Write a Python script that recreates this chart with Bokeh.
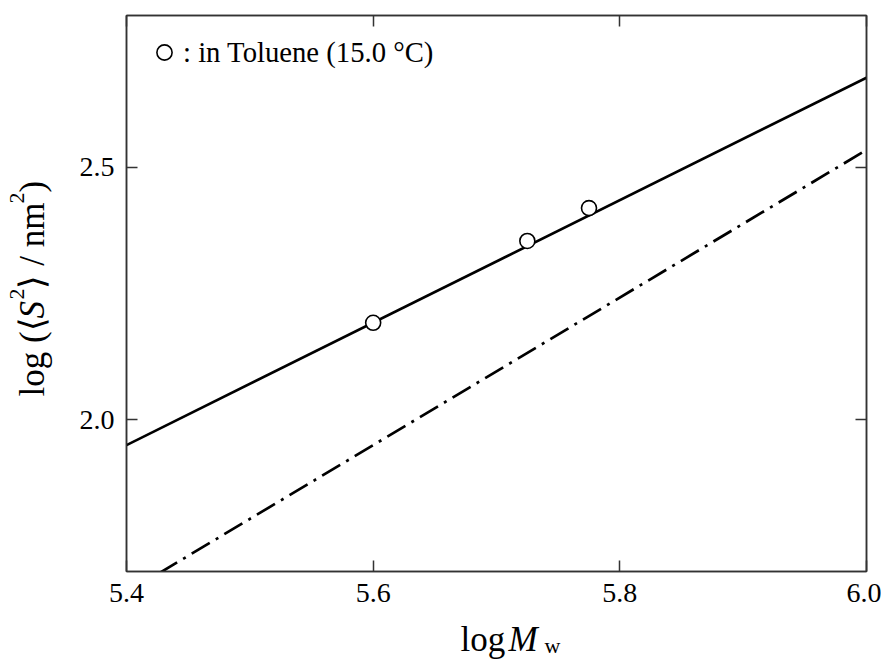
from bokeh.plotting import figure
from bokeh.models import (Range1d, LinearAxis, FixedTicker, Label, Legend, LegendItem,
                          CustomJSTickFormatter)
from bokeh.layouts import row, column
from bokeh.embed import file_html
from bokeh.resources import INLINE
import math

# ---- data ----
log_Mw_pts = [5.600, 5.725, 5.775]
log_S2_pts = [2.192, 2.354, 2.419]

fit_x = [5.4, 6.0]
fit_solid = [1.950, 2.677]
fit_dashdot = [1.658, 2.534]

x_ticks = [5.4, 5.6, 5.8, 6.0]
y_ticks = [2.0, 2.5]

legend_text = ": in Toluene (15.0 \u00b0C)"

FONT = "Liberation Serif"

# page geometry (pixels)
YLAB_W = 70
MAIN_W = 811
MAIN_H = 618
XLAB_H = 44
TOTAL_H = MAIN_H + XLAB_H
FRAME_LEFT = 126
SHIFT = 13   # rendered baseline offset of Label text (toward descender)

p = figure(width=MAIN_W, height=MAIN_H, output_backend="svg", toolbar_location=None,
           x_range=Range1d(5.4, 6.0), y_range=Range1d(1.7, 2.8),
           x_axis_type=None, y_axis_type=None,
           min_border_left=FRAME_LEFT - YLAB_W, min_border_right=15,
           min_border_top=15, min_border_bottom=MAIN_H - 571)
p.background_fill_color = "white"
p.border_fill_color = "white"
p.grid.visible = False
p.outline_line_color = "#333333"
p.outline_line_width = 1.5


def make_axis(ticks, labels=True):
    ax = LinearAxis(ticker=FixedTicker(ticks=ticks, minor_ticks=[]))
    ax.axis_line_color = "#333333"
    ax.axis_line_width = 1.5
    ax.major_tick_line_color = "#333333"
    ax.major_tick_line_width = 1.5
    ax.major_tick_in = 11
    ax.major_tick_out = 0
    ax.minor_tick_in = 0
    ax.minor_tick_out = 0
    if labels:
        ax.major_label_text_font = FONT
        ax.major_label_text_font_size = "28px"
        ax.major_label_text_color = "black"
        ax.formatter = CustomJSTickFormatter(code="return tick.toFixed(1)")
    else:
        ax.major_label_text_font_size = "10px"
        ax.major_label_standoff = 0
        ax.formatter = CustomJSTickFormatter(code="return ''")
    return ax

bx = make_axis(x_ticks)
bx.major_label_standoff = 12
p.add_layout(bx, "below")
ly = make_axis(y_ticks)
ly.major_label_standoff = 12
p.add_layout(ly, "left")
p.add_layout(make_axis(x_ticks, labels=False), "above")
p.add_layout(make_axis(y_ticks, labels=False), "right")

# lines
p.line(fit_x, fit_solid, line_color="black", line_width=2.7)
p.line(fit_x, fit_dashdot, line_color="black", line_width=2.7, line_dash="21 7 3 7")

# points
pts = p.scatter(log_Mw_pts, log_S2_pts, marker="circle", size=15, fill_color="white",
                line_color="black", line_width=1.6)

# legend
leg = Legend(items=[LegendItem(label=legend_text, renderers=[pts])],
             location=(19, 500), glyph_width=38, glyph_height=38,
             label_text_font=FONT, label_text_font_size="28.7px", label_standoff=0,
             label_text_color="black",
             padding=0, margin=0, spacing=0, border_line_alpha=0,
             background_fill_alpha=0, label_height=38)
p.add_layout(leg, "center")


def text_fig(w, h):
    f = figure(width=w, height=h, output_backend="svg", toolbar_location=None,
               x_axis_type=None, y_axis_type=None, x_range=Range1d(0, 1), y_range=Range1d(0, 1),
               min_border_left=0, min_border_right=0, min_border_top=0, min_border_bottom=0)
    f.grid.visible = False
    f.outline_line_color = None
    f.background_fill_color = "white"
    f.border_fill_color = "white"
    return f


def lab(f, text, x, y, size, style="normal", angle=0.0):
    f.add_layout(Label(x=x, y=y, x_units="screen", y_units="screen",
                       text=text, text_font=FONT, text_font_size=f"{size}px",
                       text_font_style=style, text_color="black",
                       text_baseline="alphabetic", text_align="left", angle=angle))

# x label: log M_w  (its frame is aligned with the main frame)
xf = text_fig(MAIN_W, XLAB_H)
def xl(text, px, py, size, style="normal"):
    lab(xf, text, px - FRAME_LEFT, TOTAL_H - py + SHIFT, size, style)
xl("log", 460, 652, 35)
xl("M", 508, 652, 35, "italic")
xl("w", 544, 658, 22)

# y label: log (<S^2> / nm^2), rotated, reading bottom to top
yf = text_fig(YLAB_W, TOTAL_H)
base_x = 45 - SHIFT
y0 = 396
fs = 35
ang = math.pi / 2
pieces = [
    ("log (\u27e8", 0.0, 0, fs, "normal"),
    ("S", 78.0, 0, fs, "italic"),
    ("2", 97.0, -16, 22, "normal"),
    ("\u27e9 / nm", 108.0, 0, fs, "normal"),
    ("2", 193.0, -16, 22, "normal"),
    (")", 204.0, 0, fs, "normal"),
]
for t, off, perp, size, style in pieces:
    lab(yf, t, base_x + perp, TOTAL_H - (y0 - off), size, style, ang)

layout = row(yf, column(p, xf, spacing=0), spacing=0)
open("out.html", "w").write(file_html(layout, INLINE))
